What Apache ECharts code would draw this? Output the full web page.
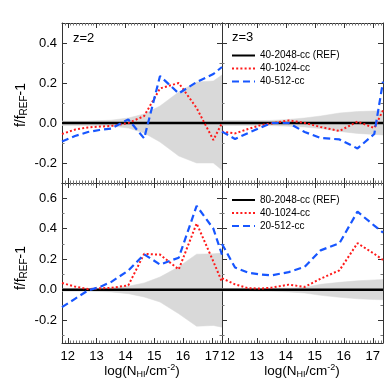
<!DOCTYPE html>
<html>
<head>
<meta charset="utf-8">
<script src="https://cdn.jsdelivr.net/npm/echarts@6/dist/echarts.min.js"></script>
<style>
html,body{margin:0;padding:0;background:#fff;}
#chart{width:390px;height:390px;}
</style>
</head>
<body>
<div id="chart"></div>
<script>
// ---- data ----
const xBins = [11.8, 12.25, 12.7, 13.1, 13.5, 14.1, 14.65, 15.2, 15.85, 16.47, 17.05, 17.35];
const xTickLabels = ['12', '13', '14', '15', '16', '17'];

// z=2 panel
const bandLoZ2 = [-0.012, -0.012, -0.012, -0.013, -0.015, -0.025, -0.05, -0.095, -0.165, -0.2, -0.2, -0.235];
const bandHiZ2 = [0.01, 0.01, 0.01, 0.012, 0.014, 0.025, 0.045, 0.085, 0.155, 0.205, 0.21, 0.24];
const red1024Z2 = [-0.055, -0.033, -0.022, -0.018, -0.015, 0.0, 0.035, 0.173, 0.2, 0.075, -0.085, 0.0];
const blue512Z2 = [-0.093, -0.065, -0.045, -0.035, -0.028, 0.018, -0.077, 0.235, 0.148, 0.205, 0.245, 0.28];

// z=3 panel
const bandLoZ3 = [-0.012, -0.012, -0.012, -0.012, -0.013, -0.016, -0.02, -0.028, -0.042, -0.052, -0.057, -0.06];
const bandHiZ3 = [0.012, 0.012, 0.012, 0.012, 0.013, 0.018, 0.025, 0.035, 0.05, 0.057, 0.06, 0.062];
const red1024Z3 = [-0.043, -0.052, -0.03, -0.012, -0.002, 0.013, 0.0, -0.02, -0.04, 0.007, -0.025, 0.063];
const blue512Z3 = [-0.043, -0.08, -0.05, -0.025, 0.0, 0.0, -0.045, -0.075, -0.082, -0.127, -0.055, 0.207];

// bottom-left panel
const bandLoB2 = [-0.01, -0.01, -0.01, -0.012, -0.015, -0.026, -0.048, -0.081, -0.158, -0.24, -0.235, -0.246];
const bandHiB2 = [0.007, 0.007, 0.008, 0.009, 0.012, 0.022, 0.044, 0.083, 0.15, 0.233, 0.235, 0.24];
const red1024B2 = [0.044, 0.02, 0.004, 0.009, 0.012, 0.028, 0.235, 0.23, 0.133, 0.435, 0.185, 0.05];
const blue512B2 = [-0.115, -0.06, -0.005, 0.017, 0.05, 0.125, 0.232, 0.165, 0.21, 0.55, 0.40, 0.23];

// bottom-right panel
const bandLoB3 = [-0.009, -0.009, -0.009, -0.01, -0.011, -0.015, -0.022, -0.037, -0.05, -0.06, -0.065, -0.066];
const bandHiB3 = [0.007, 0.007, 0.007, 0.007, 0.008, 0.01, 0.015, 0.035, 0.048, 0.058, 0.064, 0.066];
const red1024B3 = [0.075, 0.035, 0.01, 0.007, 0.013, 0.033, 0.018, 0.072, 0.127, 0.305, 0.235, 0.195];
const blue512B3 = [0.30, 0.145, 0.112, 0.1, 0.094, 0.115, 0.15, 0.258, 0.305, 0.512, 0.42, 0.375];

const refZero = [0, 0, 0, 0, 0, 0, 0, 0, 0, 0, 0, 0];

const topNames = ['40-2048-cc (REF)', '40-1024-cc', '40-512-cc'];
const bottomNames = ['80-2048-cc (REF)', '40-1024-cc', '20-512-cc'];
const panelLabels = ['z=2', 'z=3'];

// ---- build ----
const FONT = '"Liberation Sans", Arial, Helvetica, sans-serif';
const AX = '#333';
const RED = '#ff1a1a';
const BLUE = '#1756ff';
const GRAY = '#d9d9d9';

const pair = (ys) => xBins.map((x, i) => [x, ys[i]]);

const grids = [
  {left: 62, top: 23, width: 160, height: 160},
  {left: 222, top: 23, width: 161, height: 160},
  {left: 62, top: 183, width: 160, height: 160},
  {left: 222, top: 183, width: 161, height: 160}
];
const yRanges = [[-0.3, 0.5], [-0.3, 0.5], [-0.35, 0.7], [-0.35, 0.7]];

const xAxes = [], yAxes = [];
grids.forEach((g, i) => {
  ['bottom', 'top'].forEach(pos => {
    xAxes.push({
      gridIndex: i, type: 'value', position: pos, min: 11.8, max: 17.35, splitNumber: 5,
      axisLine: {show: true, onZero: false, lineStyle: {color: AX, width: 1}},
      axisTick: {show: true, inside: true, length: 5, lineStyle: {color: AX}},
      minorTick: {show: true, splitNumber: 10, length: 2.5, lineStyle: {color: '#777'}},
      splitLine: {show: false},
      axisLabel: {show: pos === 'bottom' && i >= 2, showMinLabel: false, showMaxLabel: false,
        fontSize: 13, margin: 7, color: '#000', fontFamily: FONT,
        formatter: v => xTickLabels[Math.round(v) - 12] || ''}
    });
  });
  ['left', 'right'].forEach(pos => {
    yAxes.push({
      gridIndex: i, type: 'value', position: pos, min: yRanges[i][0], max: yRanges[i][1], splitNumber: 5,
      axisLine: {show: true, onZero: false, lineStyle: {color: AX, width: 1}},
      axisTick: {show: true, inside: true, length: 5, lineStyle: {color: AX}},
      minorTick: {show: true, splitNumber: 2, length: 2.5, lineStyle: {color: '#777'}},
      splitLine: {show: false},
      axisLabel: {show: pos === 'left' && (i === 0 || i === 2), showMinLabel: false, showMaxLabel: false,
        fontSize: 13, margin: 5, color: '#000', fontFamily: FONT,
        formatter: v => v.toFixed(1)}
    });
  });
});

const panels = [
  {lo: bandLoZ2, hi: bandHiZ2, red: red1024Z2, blue: blue512Z2, names: topNames},
  {lo: bandLoZ3, hi: bandHiZ3, red: red1024Z3, blue: blue512Z3, names: topNames},
  {lo: bandLoB2, hi: bandHiB2, red: red1024B2, blue: blue512B2, names: bottomNames},
  {lo: bandLoB3, hi: bandHiB3, red: red1024B3, blue: blue512B3, names: bottomNames}
];

// band drawn as one polygon, every vertex mapped through api.coord
function bandRender(params, api) {
  if (params.dataIndexInside !== 0) return null;
  const n = params.dataInsideLength;
  const upper = [], lower = [];
  for (let j = 0; j < n; j++) {
    const x = api.value(0, j);
    upper.push(api.coord([x, api.value(2, j)]));
    lower.push(api.coord([x, api.value(1, j)]));
  }
  const pts = upper.concat(lower.reverse());
  return {
    type: 'polygon',
    shape: {points: pts},
    style: {fill: GRAY, stroke: GRAY, lineWidth: 0.5},
    clipPath: {type: 'rect', shape: {x: params.coordSys.x, y: params.coordSys.y, width: params.coordSys.width, height: params.coordSys.height}}
  };
}

const series = [];
panels.forEach((p, i) => {
  const common = {xAxisIndex: 2 * i, yAxisIndex: 2 * i, animation: false, silent: true};
  series.push(Object.assign({}, common, {
    type: 'custom', name: 'band' + i, renderItem: bandRender,
    encode: {x: 0, y: [1, 2]},
    data: xBins.map((x, j) => [x, p.lo[j], p.hi[j]]), z: 1
  }));
  const lineCommon = Object.assign({type: 'line', showSymbol: false, symbol: 'none'}, common);
  series.push(Object.assign({}, lineCommon, {
    name: p.names[0], data: pair(refZero), lineStyle: {color: '#000', width: 2.5, type: 'solid'}, itemStyle: {color: '#000'}, z: 3
  }));
  series.push(Object.assign({}, lineCommon, {
    name: p.names[1], data: pair(p.red), lineStyle: {color: RED, width: 2, type: [2, 2.2]}, itemStyle: {color: RED}, z: 4
  }));
  series.push(Object.assign({}, lineCommon, {
    name: p.names[2], data: pair(p.blue), lineStyle: {color: BLUE, width: 2.2, type: [7, 4]}, itemStyle: {color: BLUE}, z: 5
  }));
});

const legendBase = {
  orient: 'vertical', left: 231, itemWidth: 23, itemHeight: 11, itemGap: 3, padding: 0,
  selectedMode: false,
  itemStyle: {color: 'rgba(0,0,0,0)', borderColor: 'rgba(0,0,0,0)', borderWidth: 0, opacity: 0},
  textStyle: {fontSize: 10, color: '#000', fontFamily: FONT}
};

const subRich = {
  a: {fontSize: 13.5, lineHeight: 16, fontFamily: FONT, color: '#000'},
  s: {fontSize: 9, lineHeight: 9, verticalAlign: 'bottom', fontFamily: FONT, color: '#000'},
  p: {fontSize: 9, lineHeight: 9, verticalAlign: 'top', fontFamily: FONT, color: '#000'}
};
const yRich = {
  a: {fontSize: 14, lineHeight: 17, fontFamily: FONT, color: '#000'},
  s: {fontSize: 10, lineHeight: 10, verticalAlign: 'bottom', fontFamily: FONT, color: '#000'}
};
const xTitle = '{a|log(N}{s|HI}{a|/cm}{p|-2}{a|)}';
const yTitle = '{a|f/f}{s|REF}{a|-1}';

const graphic = [
  {type: 'text', left: 73, top: 32, style: {text: panelLabels[0], fontSize: 13, fontFamily: FONT, fill: '#000'}},
  {type: 'text', left: 232, top: 31, style: {text: panelLabels[1], fontSize: 13, fontFamily: FONT, fill: '#000'}},
  {type: 'text', x: 142, y: 371, style: {text: xTitle, rich: subRich, align: 'center', verticalAlign: 'middle'}},
  {type: 'text', x: 302, y: 371, style: {text: xTitle, rich: subRich, align: 'center', verticalAlign: 'middle'}},
  {type: 'text', x: 21, y: 105, rotation: Math.PI / 2, style: {text: yTitle, rich: yRich, align: 'center', verticalAlign: 'middle'}},
  {type: 'text', x: 21, y: 268, rotation: Math.PI / 2, style: {text: yTitle, rich: yRich, align: 'center', verticalAlign: 'middle'}}
];

const chart = echarts.init(document.getElementById('chart'), null, {renderer: 'canvas'});
chart.setOption({
  animation: false,
  backgroundColor: '#fff',
  textStyle: {fontFamily: FONT},
  grid: grids.map(g => Object.assign({containLabel: false}, g)),
  xAxis: xAxes,
  yAxis: yAxes,
  legend: [
    Object.assign({}, legendBase, {data: topNames, top: 50.5}),
    Object.assign({}, legendBase, {data: bottomNames, top: 195})
  ],
  graphic: graphic,
  series: series
});
</script>
</body>
</html>
